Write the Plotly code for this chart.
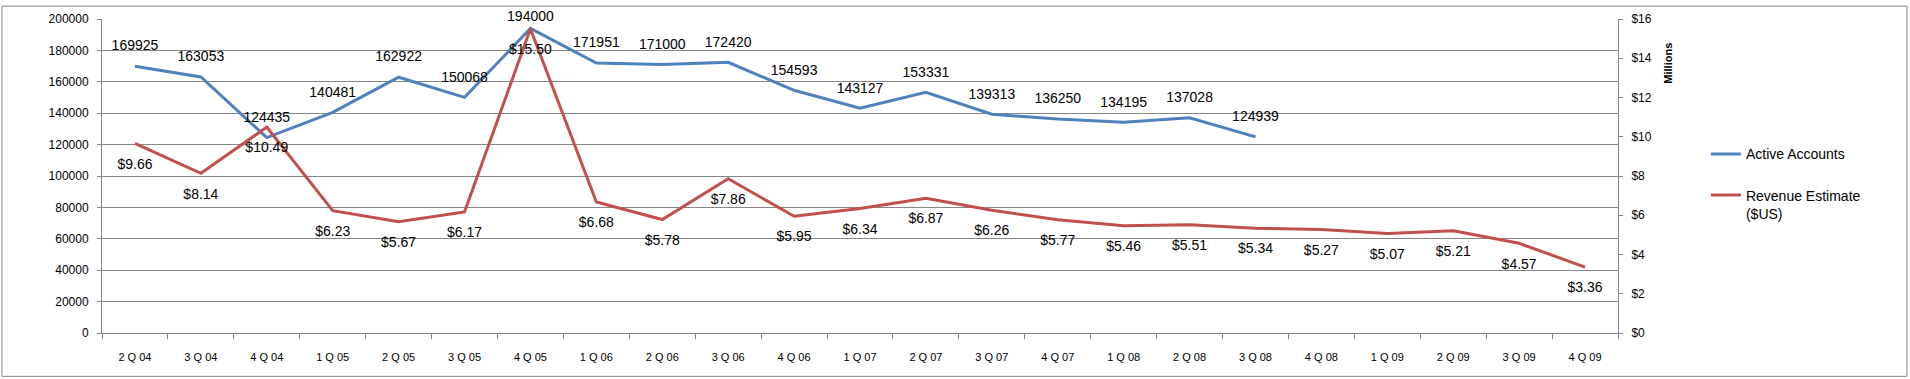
import plotly.graph_objects as go

quarters = ["2 Q 04", "3 Q 04", "4 Q 04", "1 Q 05", "2 Q 05", "3 Q 05", "4 Q 05",
            "1 Q 06", "2 Q 06", "3 Q 06", "4 Q 06", "1 Q 07", "2 Q 07", "3 Q 07",
            "4 Q 07", "1 Q 08", "2 Q 08", "3 Q 08", "4 Q 08", "1 Q 09", "2 Q 09",
            "3 Q 09", "4 Q 09"]

active_accounts = [169925, 163053, 124435, 140481, 162922, 150068, 194000, 171951,
                   171000, 172420, 154593, 143127, 153331, 139313, 136250, 134195,
                   137028, 124939]

revenue_millions = [9.66, 8.14, 10.49, 6.23, 5.67, 6.17, 15.50, 6.68, 5.78, 7.86,
                    5.95, 6.34, 6.87, 6.26, 5.77, 5.46, 5.51, 5.34, 5.27, 5.07,
                    5.21, 4.57, 3.36]

left_ticks = [0, 20000, 40000, 60000, 80000, 100000, 120000, 140000, 160000, 180000, 200000]
right_ticks = [0, 2, 4, 6, 8, 10, 12, 14, 16]
right_tick_labels = ["$0", "$2", "$4", "$6", "$8", "$10", "$12", "$14", "$16"]

FONT = "Liberation Sans, Arial, sans-serif"
GRID = "#868686"
BLUE = "#4F81BD"
RED = "#C0504D"

# invisible markers used only to push the data labels away from the lines;
# the peak label sits closer to its point (as in the original, near the top edge)
peak_idx = active_accounts.index(max(active_accounts))
blue_marker_sizes = [18] * len(active_accounts)
blue_marker_sizes[peak_idx] = 4

fig = go.Figure()

fig.add_trace(go.Scatter(
    x=quarters[:len(active_accounts)], y=active_accounts,
    mode="lines+markers+text", name="Active Accounts",
    line=dict(color=BLUE, width=3),
    marker=dict(size=blue_marker_sizes, color="rgba(0,0,0,0)", opacity=0,
                line=dict(width=0, color="rgba(0,0,0,0)")),
    text=[str(v) for v in active_accounts],
    textposition="top center",
    textfont=dict(family=FONT, size=14, color="black"),
    cliponaxis=False,
    legendgroup="a",
    yaxis="y",
))

fig.add_trace(go.Scatter(
    x=quarters, y=revenue_millions,
    mode="lines+markers+text", name="Revenue Estimate<br>($US)",
    line=dict(color=RED, width=3),
    marker=dict(size=22, color="rgba(0,0,0,0)", opacity=0,
                line=dict(width=0, color="rgba(0,0,0,0)")),
    text=["${:.2f}".format(v) for v in revenue_millions],
    textposition="bottom center",
    textfont=dict(family=FONT, size=14, color="black"),
    cliponaxis=False,
    legendgroup="b",
    yaxis="y2",
))

fig.update_layout(
    width=1910, height=379,
    margin=dict(l=102, r=292, t=15, b=46),
    paper_bgcolor="white", plot_bgcolor="white",
    font=dict(family=FONT, color="black"),
    xaxis=dict(
        type="category", categoryorder="array", categoryarray=quarters,
        range=[-0.5, len(quarters) - 0.5],
        showgrid=False, showline=True, linecolor=GRID, linewidth=1,
        ticks="outside", tickson="boundaries", ticklen=5, tickcolor=GRID,
        tickfont=dict(family=FONT, size=11, color="black"),
        ticklabelstandoff=14,
    ),
    yaxis=dict(
        range=[0, 200000], tickvals=left_ticks, tickformat="d",
        showgrid=True, gridcolor=GRID, gridwidth=1,
        showline=True, linecolor=GRID, linewidth=1,
        ticks="outside", ticklen=4, tickcolor=GRID,
        tickfont=dict(family=FONT, size=12, color="black"),
        ticklabelstandoff=6,
        zeroline=False,
    ),
    yaxis2=dict(
        range=[0, 16], tickvals=right_ticks, ticktext=right_tick_labels,
        overlaying="y", side="right",
        showgrid=False, showline=True, linecolor=GRID, linewidth=1,
        ticks="outside", ticklen=4, tickcolor=GRID,
        tickfont=dict(family=FONT, size=12, color="black"),
        ticklabelstandoff=6,
        zeroline=False,
    ),
    legend=dict(
        x=1.058, xanchor="left", y=0.62, yanchor="top",
        font=dict(family=FONT, size=14, color="black"),
        tracegroupgap=20, valign="top",
        bgcolor="rgba(0,0,0,0)",
    ),
    showlegend=True,
    annotations=[dict(
        text="<b>Millions</b>", xref="paper", yref="paper",
        x=1.0386, y=0.931, textangle=-90, showarrow=False,
        font=dict(family=FONT, size=11, color="black"),
    )],
    shapes=[dict(
        type="rect", xref="paper", yref="paper",
        x0=-0.066, x1=1.1906, y0=-0.138, y1=1.041,
        line=dict(color=GRID, width=1), layer="below",
    )],
)

fig.write_html("out.html", config={"displayModeBar": False},
               post_script="document.body.style.margin='0';")
